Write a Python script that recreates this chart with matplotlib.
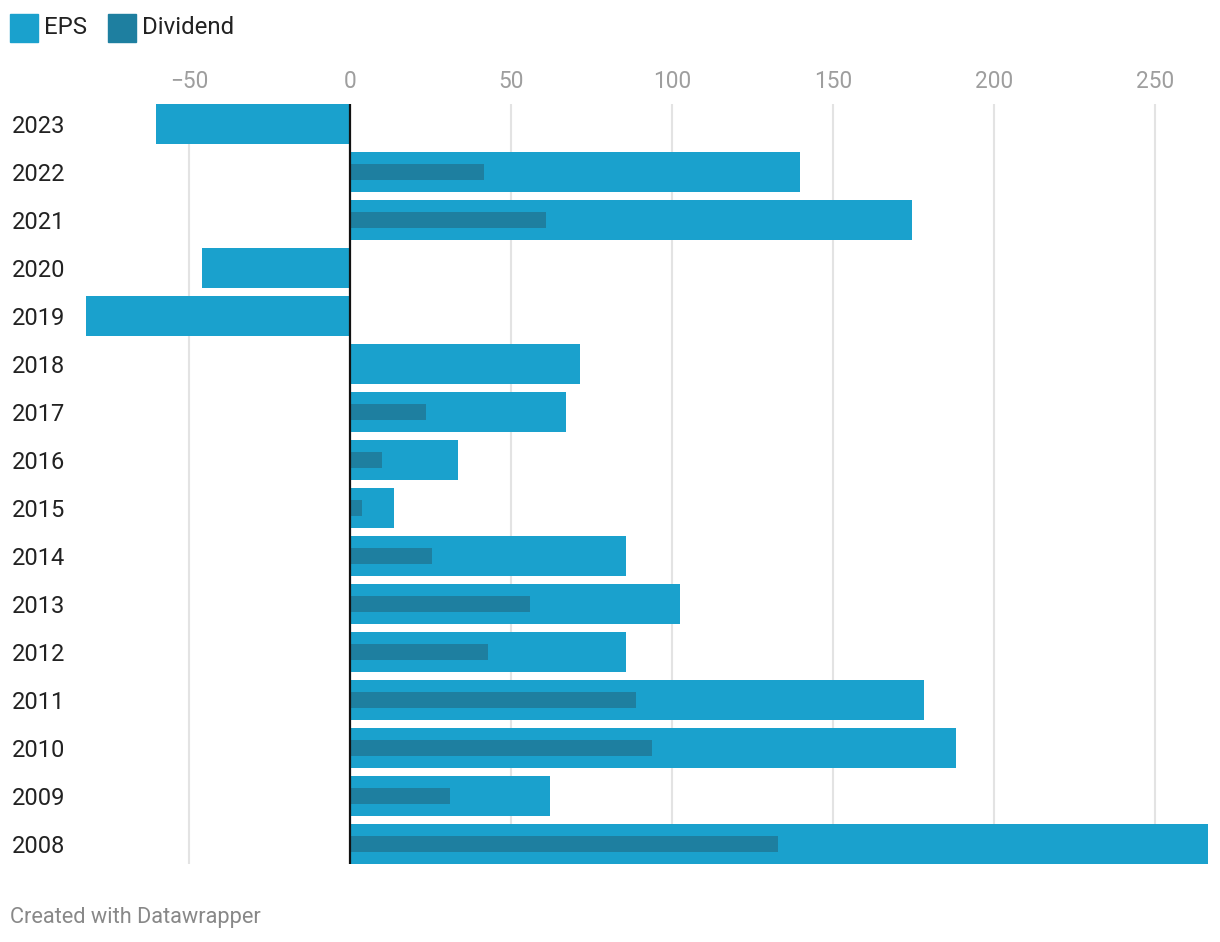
import numpy as np
import matplotlib.pyplot as plt
from matplotlib.patches import Rectangle

plt.rcParams['font.family'] = ['Roboto', 'DejaVu Sans']

# data (top row first)
years = ['2023', '2022', '2021', '2020', '2019', '2018', '2017', '2016',
         '2015', '2014', '2013', '2012', '2011', '2010', '2009', '2008']
eps = [-60.2, 139.8, 174.5, -46.0, -82.0, 71.4, 67.1, 33.5,
       13.7, 85.7, 102.5, 85.7, 178.3, 188.2, 62.1, 266.5]
dividend = [0, 41.6, 60.9, 0, 0, 0, 23.6, 9.9,
            3.7, 25.5, 55.9, 42.9, 88.8, 93.8, 31.0, 132.9]
xticks = [-50, 0, 50, 100, 150, 200, 250]

EPS_COLOR = '#1aa1cd'
DIV_COLOR = '#1e7fa0'

W, H = 1220, 942
fig = plt.figure(figsize=(W / 100, H / 100), dpi=100)

# axes placed in pixels: left 86, right 1208, top 104, bottom 864
left, right, top, bottom = 86, 1208, 104, 864
ax = fig.add_axes([left / W, 1 - bottom / H, (right - left) / W, (bottom - top) / H])

pos = np.arange(len(years))
ax.barh(pos, eps, height=40 / 48, color=EPS_COLOR, zorder=2)
ax.barh(pos, dividend, height=16 / 48, color=DIV_COLOR, zorder=3)

ax.set_xlim(-82.0, 266.5)
ax.set_ylim(len(years) - 1 + 20 / 48, -20 / 48)

# grid + zero line
for x in xticks:
    if x == 0:
        continue
    ax.axvline(x, color='#e3e3e3', lw=1.5, zorder=1)
ax.axvline(0, color='#111111', lw=1.6, zorder=4)

ax.xaxis.tick_top()
ax.set_xticks(xticks)
ax.tick_params(axis='x', length=0, pad=8, labelsize=16.3, labelcolor='#9e9e9e')

ax.set_yticks(pos, labels=years)
ax.tick_params(axis='y', length=0, pad=53.5, labelsize=17, labelcolor='#222222')
for lab in ax.get_yticklabels():
    lab.set_ha('left')

for s in ax.spines.values():
    s.set_visible(False)

# legend drawn by hand like datawrapper
def legend_item(x0, label, color):
    fig.patches.append(Rectangle((x0 / W, 1 - 42 / H), 28 / W, 28 / H,
                                 transform=fig.transFigure, color=color))
    fig.text((x0 + 34) / W, 1 - 25.5 / H, label, fontsize=17.3,
             color='#222222', va='center_baseline', ha='left')

legend_item(10, 'EPS', EPS_COLOR)
legend_item(108, 'Dividend', DIV_COLOR)

fig.text(10 / W, 1 - 917 / H, 'Created with Datawrapper', fontsize=15.7,
         color='#888888', va='center', ha='left')

fig.savefig('out.png', dpi=100)
